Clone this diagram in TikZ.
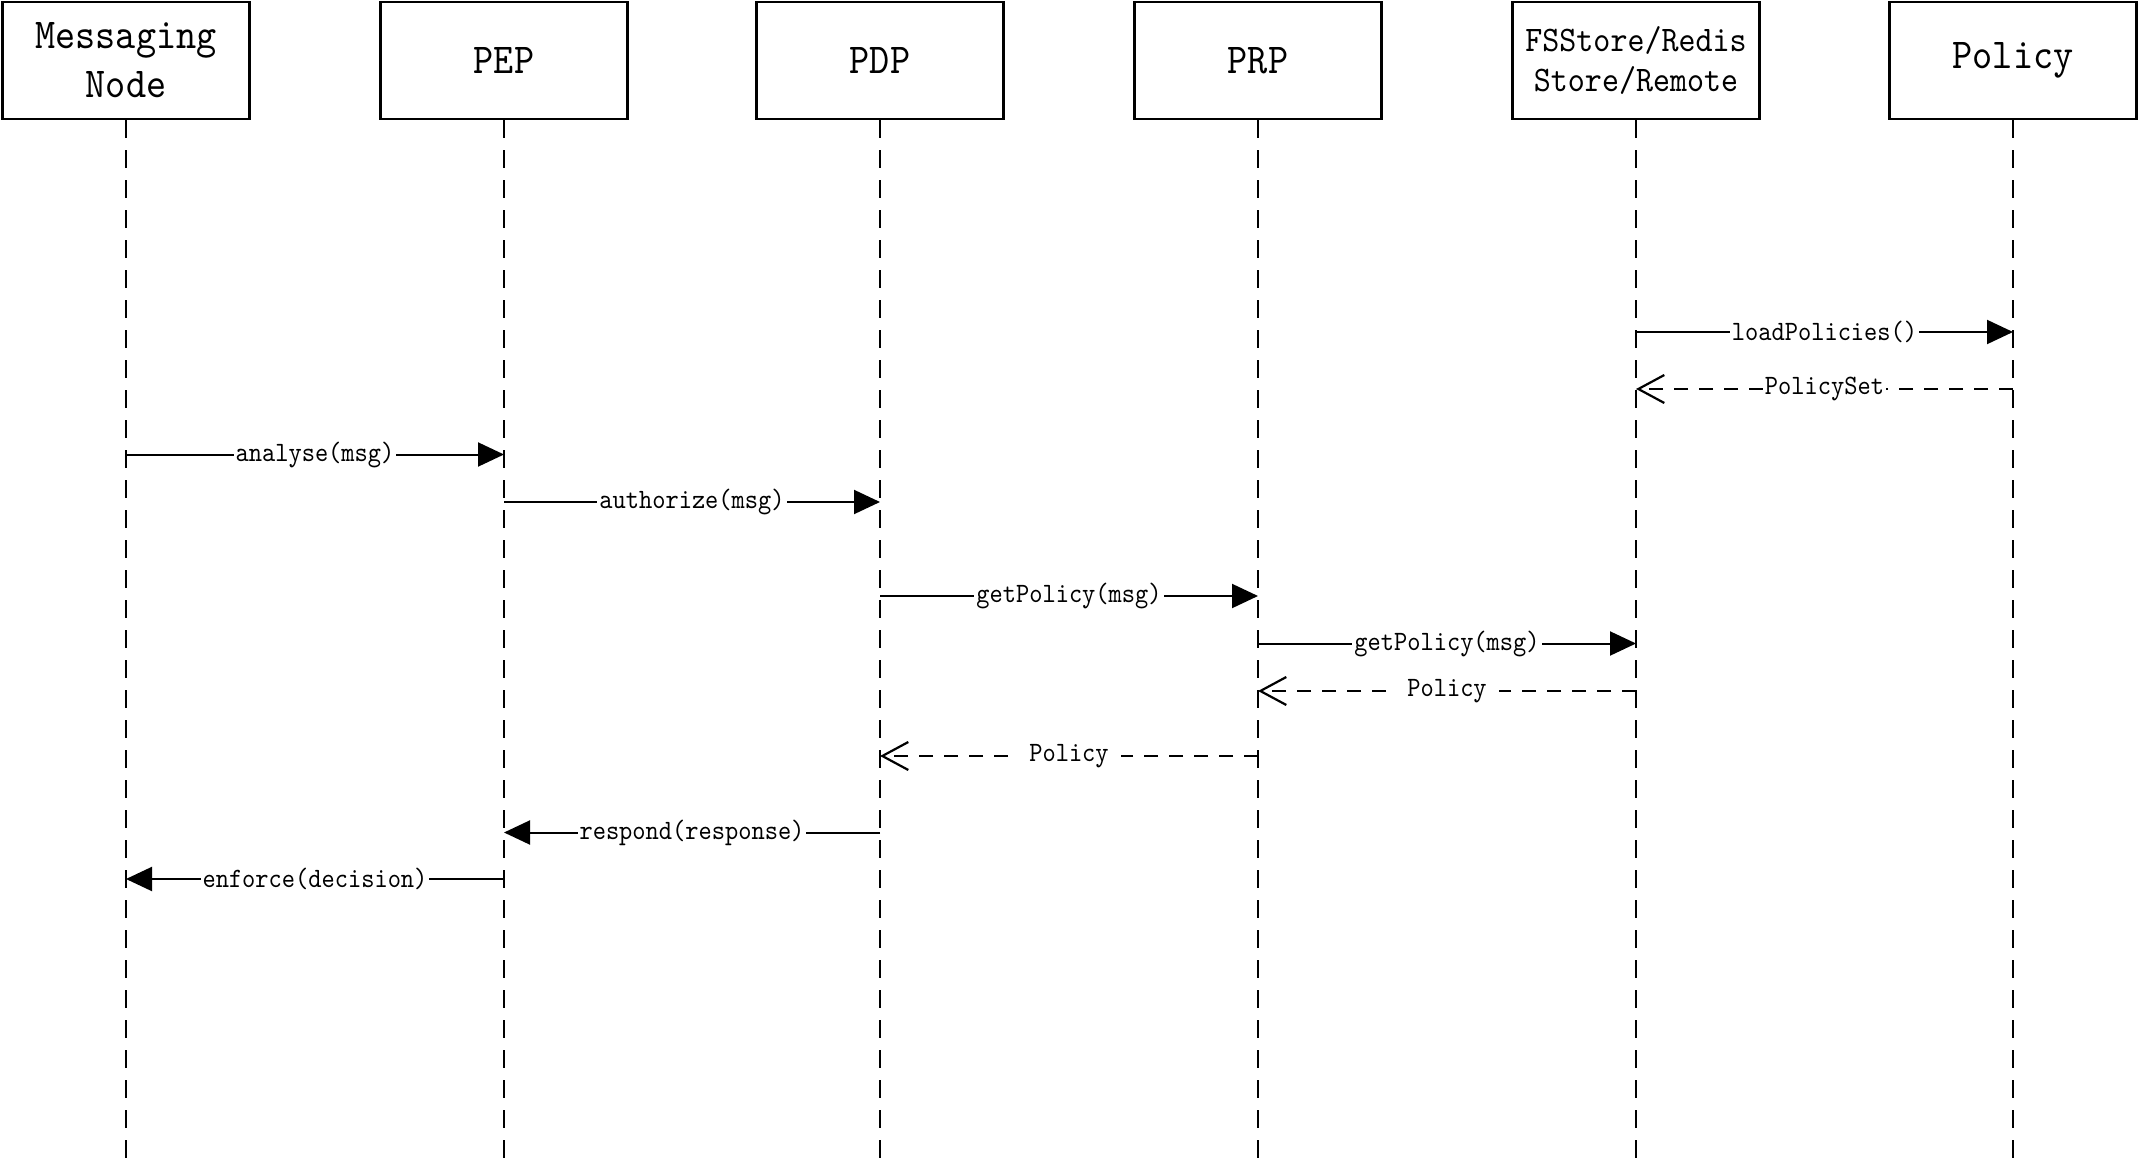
\documentclass[tikz,border=0pt]{standalone}
\usepackage{fontspec}
\newfontfamily\seqfont[FakeStretch=0.9]{lmmono10-regular.otf}
\usetikzlibrary{arrows.meta}
\begin{document}
\begin{tikzpicture}[x=0.5pt,y=-0.5pt,
  actor/.style={draw,line width=1.2pt,minimum width=123.5pt,minimum height=58.5pt,inner sep=0pt,align=center,
    font=\seqfont\fontsize{21.3}{24.5}\selectfont},
  smallactor/.style={actor,font=\seqfont\fontsize{18}{20}\selectfont},
  lifeline/.style={line width=1pt,dash pattern=on 9pt off 6pt},
  callmsg/.style={line width=1pt,-{Triangle[length=13pt,width=12pt]}},
  retmsg/.style={line width=1pt,dash pattern=on 7pt off 5.5pt,-{Straight Barb[length=13pt,width=14pt,line width=1.1pt]}},
  msglabel/.style={fill=white,inner sep=1pt,font=\seqfont\fontsize{14}{15}\selectfont}]
\useasboundingbox (0,0) rectangle (2140,1160);
% actors
\node[actor] (mn) at (126,60.5) {Messaging\\Node};
\node[actor] (pep) at (504,60.5) {PEP};
\node[actor] (pdp) at (880,60.5) {PDP};
\node[actor] (prp) at (1258,60.5) {PRP};
\node[smallactor] (fs) at (1636,60.5) {FSStore/Redis\\Store/Remote};
\node[actor] (pol) at (2013,60.5) {Policy};
% lifeline ends
\foreach \n in {mn,pep,pdp,prp,fs,pol}{
  \coordinate (\n end) at (\n |- 0,1160);
  \draw[lifeline] (\n.south) -- (\n end);
}
% message anchor points
\coordinate (fs1) at (fs |- 0,332);  \coordinate (pol1) at (pol |- 0,332);
\coordinate (fs2) at (fs |- 0,389);  \coordinate (pol2) at (pol |- 0,389);
\coordinate (mn3) at (mn |- 0,454.5); \coordinate (pep3) at (pep |- 0,454.5);
\coordinate (pep4) at (pep |- 0,502); \coordinate (pdp4) at (pdp |- 0,502);
\coordinate (pdp5) at (pdp |- 0,596); \coordinate (prp5) at (prp |- 0,596);
\coordinate (prp6) at (prp |- 0,643.5); \coordinate (fs6) at (fs |- 0,643.5);
\coordinate (fs7) at (fs |- 0,691); \coordinate (prp7) at (prp |- 0,691);
\coordinate (prp8) at (prp |- 0,756); \coordinate (pdp8) at (pdp |- 0,756);
\coordinate (pdp9) at (pdp |- 0,832.5); \coordinate (pep9) at (pep |- 0,832.5);
\coordinate (pep10) at (pep |- 0,879); \coordinate (mn10) at (mn |- 0,879);
% messages
\draw[callmsg] (fs1) -- node[msglabel] {loadPolicies()} (pol1);
\draw[retmsg] (pol2) -- node[msglabel] {PolicySet} (fs2);
\draw[callmsg] (mn3) -- node[msglabel] {analyse(msg)} (pep3);
\draw[callmsg] (pep4) -- node[msglabel] {authorize(msg)} (pdp4);
\draw[callmsg] (pdp5) -- node[msglabel] {getPolicy(msg)} (prp5);
\draw[callmsg] (prp6) -- node[msglabel] {getPolicy(msg)} (fs6);
\draw[retmsg] (fs7) -- node[msglabel,inner xsep=6pt] {Policy} (prp7);
\draw[retmsg] (prp8) -- node[msglabel,inner xsep=6pt] {Policy} (pdp8);
\draw[callmsg] (pdp9) -- node[msglabel] {respond(response)} (pep9);
\draw[callmsg] (pep10) -- node[msglabel] {enforce(decision)} (mn10);
\end{tikzpicture}
\end{document}
